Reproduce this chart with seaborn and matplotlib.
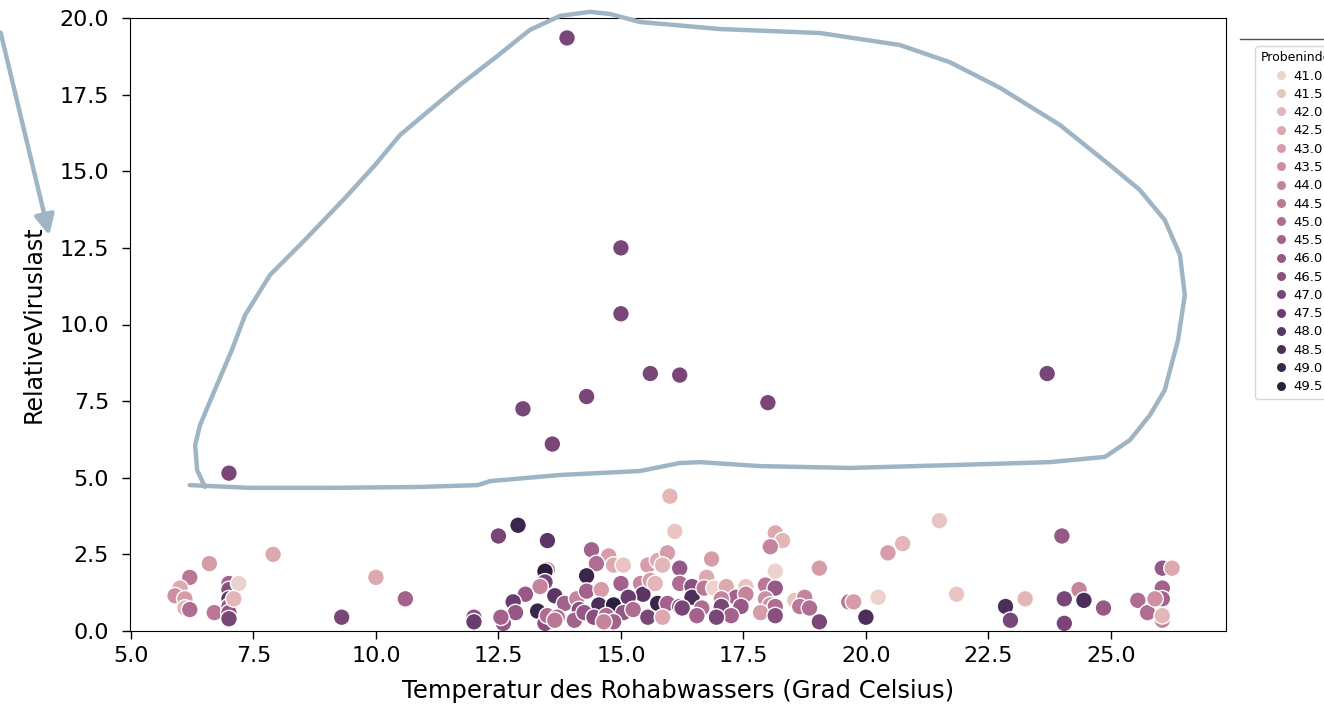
import numpy as np
import pandas as pd
import matplotlib
matplotlib.use("Agg")
import matplotlib.pyplot as plt
import seaborn as sns
from matplotlib.lines import Line2D

# Temperatur (x), relative Viruslast (y), Probenindex (hue)
temperatur = [
    7.0, 13.9, 15.0, 15.0, 15.6, 16.2, 13.0, 14.3, 13.6, 18.0, 23.7,
    7.9, 6.6, 6.2, 6.0, 5.9, 6.1, 6.1, 6.2, 6.7, 7.0, 7.0, 7.0, 7.0, 7.0, 7.0, 7.2, 7.1,
    10.0, 10.6, 9.3, 12.0, 12.0,
    12.5, 12.9, 13.5, 13.5, 13.45, 13.45, 13.35, 13.05, 12.8, 12.85, 13.65, 13.85, 13.3,
    13.45, 13.5, 12.6, 12.55, 14.1, 14.15, 14.05, 13.7, 13.65,
    16.0, 16.1, 14.4, 14.75, 14.5, 14.85, 15.05, 15.55, 15.75, 15.95, 15.85, 14.3, 14.3,
    14.6, 15.0, 15.4, 15.45, 15.6, 15.7, 16.2, 16.2, 14.55, 14.85, 15.15, 15.75, 15.95,
    16.2, 14.25, 14.45, 14.7, 15.05, 15.25, 15.55, 15.85, 14.85, 14.65,
    16.85, 16.75, 16.45, 16.45, 16.7, 16.9, 17.15, 17.55, 17.35, 17.55, 17.05, 17.95,
    18.15, 17.95, 18.05, 18.15, 17.85, 18.15, 16.25, 16.65, 16.55, 17.05, 17.45, 17.25,
    16.95, 18.15, 18.3, 18.05, 18.15, 18.55, 18.75, 18.65,
    21.5, 20.75, 20.45, 19.05, 18.85, 19.05, 19.65, 19.75, 20.25, 20.0, 21.85,
    24.0, 23.25, 22.85, 22.95, 24.05, 24.35, 24.45, 24.05, 24.85, 25.55, 25.75,
    26.05, 26.25, 26.05, 26.05, 25.9, 26.05, 26.05,
]
viruslast = [
    5.15, 19.35, 12.5, 10.35, 8.4, 8.35, 7.25, 7.65, 6.1, 7.45, 8.4,
    2.5, 2.2, 1.75, 1.4, 1.15, 1.05, 0.75, 0.7, 0.6, 1.55, 1.35, 1.05, 0.8, 0.6, 0.4, 1.55, 1.05,
    1.75, 1.05, 0.45, 0.45, 0.3,
    3.1, 3.45, 2.95, 2.0, 1.95, 1.6, 1.45, 1.2, 0.95, 0.6, 1.15, 0.9, 0.65,
    0.25, 0.5, 0.25, 0.45, 1.05, 0.7, 0.35, 0.45, 0.35,
    4.4, 3.25, 2.65, 2.45, 2.2, 2.15, 2.15, 2.15, 2.3, 2.55, 2.15, 1.8, 1.3,
    1.35, 1.55, 1.55, 1.2, 1.65, 1.55, 2.05, 1.55, 0.85, 0.85, 1.1, 0.9, 0.9,
    0.8, 0.6, 0.45, 0.5, 0.6, 0.7, 0.45, 0.45, 0.3, 0.3,
    2.35, 1.75, 1.45, 1.1, 1.4, 1.4, 1.45, 1.45, 1.1, 1.2, 1.05, 1.5,
    1.4, 1.05, 0.85, 0.8, 0.6, 0.5, 0.75, 0.75, 0.5, 0.8, 0.8, 0.5,
    0.45, 3.2, 2.95, 2.75, 1.95, 1.0, 1.1, 0.8,
    3.6, 2.85, 2.55, 2.05, 0.75, 0.3, 0.95, 0.95, 1.1, 0.45, 1.2,
    3.1, 1.05, 0.8, 0.35, 1.05, 1.35, 1.0, 0.25, 0.75, 1.0, 0.6,
    2.05, 2.05, 1.4, 1.05, 1.05, 0.35, 0.5,
]
probenindex = [
    47.0, 47.0, 47.0, 47.0, 47.0, 47.0, 47.0, 47.0, 47.0, 47.0, 47.0,
    42.5, 43.0, 44.5, 42.5, 43.5, 43.0, 42.0, 45.0, 44.5, 45.5, 46.5, 48.0, 46.0, 46.0, 47.0, 41.0, 42.0,
    42.5, 45.5, 47.0, 46.5, 47.5,
    47.0, 49.0, 48.0, 44.0, 49.5, 47.0, 44.0, 46.0, 47.5, 46.0, 48.0, 45.5, 49.0,
    46.5, 45.0, 46.0, 45.5, 44.0, 46.5, 45.5, 45.0, 44.5,
    42.0, 41.5, 45.5, 43.0, 45.0, 42.5, 41.5, 43.0, 42.5, 43.0, 42.0, 49.0, 45.5,
    43.0, 45.5, 44.0, 48.0, 43.0, 42.0, 46.0, 45.0, 48.5, 49.5, 47.5, 49.0, 45.5,
    46.5, 46.0, 46.5, 45.0, 46.0, 45.0, 47.0, 42.5, 45.5, 44.0,
    43.0, 42.5, 46.5, 48.5, 44.5, 41.0, 42.5, 41.5, 45.5, 44.0, 44.0, 44.5,
    46.0, 43.5, 43.5, 45.0, 43.0, 46.5, 47.0, 45.0, 45.5, 47.0, 46.0, 45.5,
    47.0, 42.5, 42.0, 44.0, 41.0, 41.5, 44.0, 44.5,
    41.5, 42.0, 43.0, 43.0, 45.0, 47.0, 44.5, 43.0, 41.0, 48.5, 41.5,
    46.0, 42.0, 48.5, 47.0, 47.0, 44.0, 48.5, 47.0, 46.0, 45.0, 45.0,
    46.0, 42.5, 45.5, 45.5, 43.5, 44.0, 42.0,
]

df = pd.DataFrame({
    "Temperatur": temperatur,
    "RelativeViruslast": viruslast,
    "Probenindex": probenindex,
})

# hand-drawn outline (data coords) around the high values
outline_x = [6.20, 7.43, 9.06, 10.90, 12.08, 12.33, 13.76, 15.39, 16.20, 16.61, 17.84, 19.67,
             21.92, 23.76, 24.88, 25.39, 25.80, 26.10, 26.37, 26.51, 26.41, 26.10, 25.59,
             24.98, 23.96, 22.74, 21.71, 20.69, 19.06, 17.02, 15.39, 14.78, 14.37, 13.76,
             13.14, 12.43, 11.71, 11.10, 10.49, 9.98, 9.37, 8.55, 7.84, 7.33, 7.06, 6.71,
             6.41, 6.31, 6.35, 6.51]
outline_y = [4.76, 4.67, 4.67, 4.70, 4.76, 4.89, 5.09, 5.22, 5.48, 5.51, 5.38, 5.32,
             5.42, 5.51, 5.68, 6.23, 7.05, 7.86, 9.49, 10.96, 12.27, 13.41, 14.39,
             15.20, 16.51, 17.72, 18.56, 19.12, 19.51, 19.64, 19.87, 20.13, 20.20, 20.07,
             19.61, 18.70, 17.81, 17.00, 16.18, 15.20, 14.13, 12.76, 11.62, 10.31, 9.17, 7.86,
             6.72, 6.07, 5.25, 4.70]

fig = plt.figure(figsize=(13.24, 7.11), dpi=100)
ax = fig.add_axes([130 / 1324, 80 / 711, 1096 / 1324, 613 / 711])

sns.scatterplot(data=df, x="Temperatur", y="RelativeViruslast", hue="Probenindex",
                legend="full", s=145, edgecolor="white", linewidth=1, ax=ax)

ax.set_xlim(4.98, 27.35)
ax.set_ylim(0, 20)
ax.set_xticks(np.arange(5, 25.1, 2.5))
ax.set_yticks(np.arange(0, 20.1, 2.5))
ax.tick_params(labelsize=16, length=6, width=1)
ax.tick_params(axis="y", pad=9)
ax.tick_params(axis="x", pad=5)
ax.set_xlabel("Temperatur des Rohabwassers (Grad Celsius)", fontsize=17.5, labelpad=9)
ax.set_ylabel("RelativeViruslast", fontsize=17, labelpad=10)

handles, labels = ax.get_legend_handles_labels()
ax.legend(handles, labels, title="Probenindex", fontsize=9.5, title_fontsize=9,
          markerscale=0.62, loc="upper left", bbox_to_anchor=(1255 / 1324, 1 - 46 / 711),
          bbox_transform=fig.transFigure, borderaxespad=0, frameon=True,
          labelspacing=0.4, handletextpad=0.5, handlelength=0.9, borderpad=0.4)

ax.plot(outline_x, outline_y, color="#9fb5c4", lw=3.2, clip_on=False,
        solid_capstyle="round", solid_joinstyle="round", zorder=5)

ax.annotate("", xy=(50 / 1324, 1 - 238 / 711), xycoords="figure fraction",
            xytext=(0 / 1324, 1 - 30 / 711), textcoords="figure fraction",
            arrowprops=dict(arrowstyle="-|>", color="#9fb5c4", lw=3.2, mutation_scale=30))

fig.add_artist(Line2D([1240 / 1324, 1.0], [1 - 39 / 711, 1 - 39 / 711],
                      transform=fig.transFigure, color="#555555", lw=1))

fig.savefig("out.png", dpi=100)
